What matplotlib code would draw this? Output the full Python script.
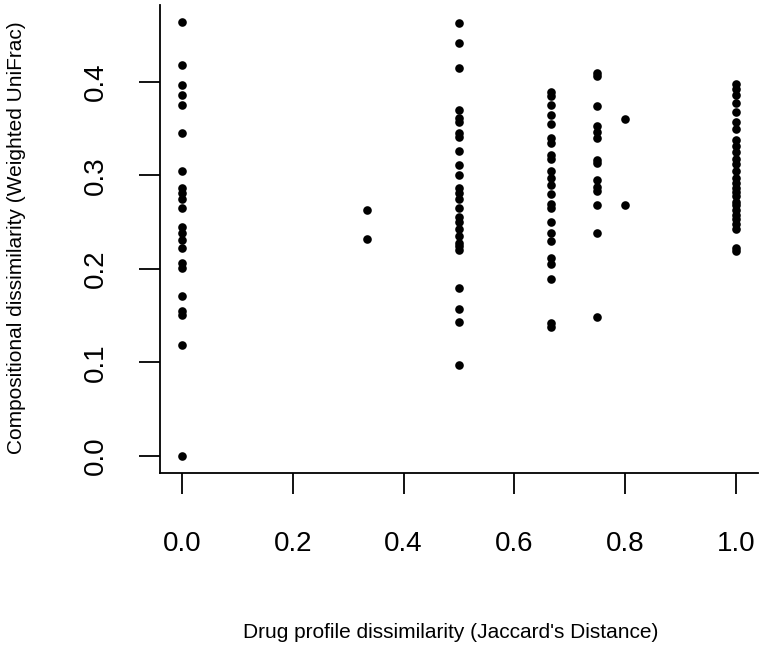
import matplotlib
matplotlib.use("Agg")
import matplotlib.pyplot as plt

# distancia de perfil de fármacos (Jaccard) y disimilitud composicional (UniFrac ponderado)
x_groups = [0.0, 1/3, 0.5, 2/3, 0.75, 0.8, 1.0]
y_groups = [
    [0.464, 0.418, 0.397, 0.386, 0.376, 0.345, 0.305, 0.287, 0.281, 0.275,
     0.265, 0.245, 0.238, 0.231, 0.222, 0.206, 0.201, 0.171, 0.155, 0.151,
     0.119, 0.0],
    [0.263, 0.232],
    [0.463, 0.442, 0.415, 0.370, 0.362, 0.357, 0.345, 0.341, 0.326, 0.311,
     0.300, 0.287, 0.281, 0.275, 0.265, 0.256, 0.250, 0.243, 0.235, 0.228,
     0.224, 0.220, 0.180, 0.157, 0.143, 0.097],
    [0.389, 0.385, 0.375, 0.365, 0.355, 0.340, 0.335, 0.322, 0.318, 0.305,
     0.297, 0.290, 0.280, 0.270, 0.265, 0.250, 0.238, 0.230, 0.212, 0.205,
     0.189, 0.142, 0.138],
    [0.410, 0.406, 0.374, 0.353, 0.347, 0.340, 0.317, 0.313, 0.295, 0.288,
     0.283, 0.268, 0.238, 0.149],
    [0.360, 0.268],
    [0.398, 0.393, 0.386, 0.378, 0.368, 0.357, 0.350, 0.338, 0.332, 0.325,
     0.318, 0.312, 0.305, 0.297, 0.292, 0.287, 0.282, 0.278, 0.272, 0.268,
     0.263, 0.258, 0.253, 0.248, 0.243, 0.222, 0.219],
]
x_ticks = [0.0, 0.2, 0.4, 0.6, 0.8, 1.0]
y_ticks = [0.0, 0.1, 0.2, 0.3, 0.4]

xs = []
ys = []
for xv, yl in zip(x_groups, y_groups):
    xs += [xv] * len(yl)
    ys += yl

plt.rcParams['font.family'] = ['Liberation Sans', 'DejaVu Sans']

fig = plt.figure(figsize=(7.63, 6.45), dpi=100)
ax = fig.add_axes([160/763, 1 - 473/645, 598/763, 468/645])
ax.plot(xs, ys, 'o', color='black', markersize=6.2, markeredgewidth=0)

xr = max(xs) - min(xs)
yr = max(ys) - min(ys)
ax.set_xlim(min(xs) - 0.04*xr, max(xs) + 0.04*xr)
ax.set_ylim(min(ys) - 0.04*yr, max(ys) + 0.04*yr)

ax.spines['top'].set_visible(False)
ax.spines['right'].set_visible(False)
for s in ['left', 'bottom']:
    ax.spines[s].set_linewidth(1.3)

ax.set_xticks(x_ticks)
ax.set_xticklabels([f"{t:.1f}" for t in x_ticks])
ax.set_yticks(y_ticks)
ax.set_yticklabels([f"{t:.1f}" for t in y_ticks], rotation=90, va='center')
ax.tick_params(axis='both', direction='out', length=15, width=1.3,
               labelsize=20, color='black')
ax.tick_params(axis='x', pad=27)
ax.tick_params(axis='y', pad=22)

fig.text(451/763, 1 - 632/645, "Drug profile dissimilarity (Jaccard's Distance)",
         ha='center', va='center', fontsize=15)
fig.text(17/763, 1 - 238/645, "Compositional dissimilarity (Weighted UniFrac)",
         ha='center', va='center', rotation=90, fontsize=15)

fig.savefig("out.png", dpi=100)
